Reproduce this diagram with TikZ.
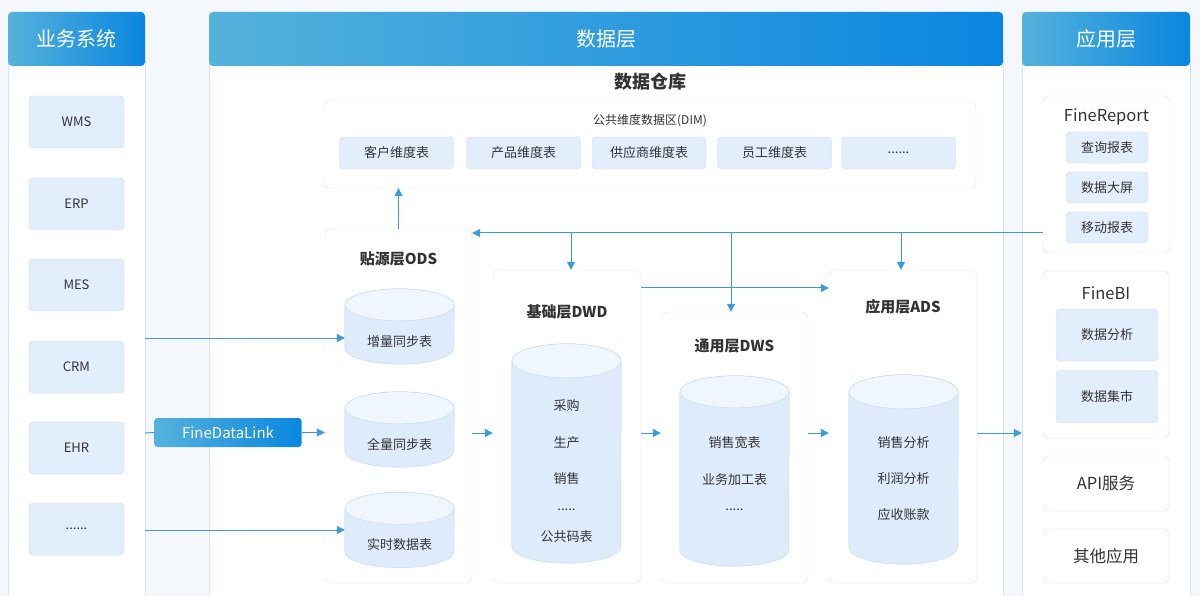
\documentclass[tikz,border=0pt]{standalone}
\usepackage{fontspec}
\setmainfont{Noto Sans CJK SC}
\usetikzlibrary{arrows.meta,positioning}
\definecolor{bgc}{HTML}{F4F7FC}
\definecolor{hdrL}{HTML}{54B2DC}
\definecolor{hdrR}{HTML}{0A86E0}
\definecolor{bord}{HTML}{D6E4F6}
\definecolor{cellf}{HTML}{E3EEFC}
\definecolor{cellb}{HTML}{C9DCF4}
\definecolor{dbbody}{HTML}{DDEBFB}
\definecolor{dbtop}{HTML}{F0F6FE}
\definecolor{dbb}{HTML}{C3D8F2}
\definecolor{flow}{HTML}{3A9BE0}
\definecolor{txt}{HTML}{333333}

% cylinder drawn round a placeholder node: #1 node, #2 ellipse half height
\newcommand{\drawdb}[2]{%
  \path[draw=dbb, fill=dbbody] ([yshift=-#2]#1.north west)
    -- ([yshift=#2]#1.south west)
    arc[start angle=180, end angle=360, x radius=54.5pt, y radius=#2]
    -- ([yshift=-#2]#1.north east)
    arc[start angle=0, end angle=180, x radius=54.5pt, y radius=#2] -- cycle;
  \path[draw=dbb, fill=dbtop] ([yshift=-#2]#1.north)
    ellipse[x radius=54.5pt, y radius=#2];}

\begin{document}
\begin{tikzpicture}[x=1pt, y=-1pt, >={Triangle[length=8pt,width=8pt]},
    font=\fontsize{13}{15}\selectfont, text=txt,
    hdr/.style={rounded corners=4pt, left color=hdrL, right color=hdrR,
      text=white, font=\fontsize{20}{24}\selectfont, inner sep=0pt},
    col/.style={fill=white, draw=bord, inner sep=0pt},
    panel/.style={draw=bord, fill=white, rounded corners=6pt, inner sep=0pt},
    cell/.style={draw=cellb, fill=cellf, rounded corners=4pt, inner sep=0pt},
    db/.style={minimum width=109, inner sep=0pt},
    arrow/.style={->, draw=flow, line width=1pt},
    link/.style={draw=flow, line width=1pt},
    title/.style={font=\fontsize{15}{18}\selectfont\bfseries},
    apptitle/.style={font=\fontsize{16.5}{20}\selectfont} ]

  \useasboundingbox[fill=bgc] (0,0) rectangle (1200,596);
  \clip (0,0) rectangle (1200,596);

  % Business systems
  \node[col, minimum width=137, minimum height=560, anchor=north] (sysbody)
    at (76.5,60) {};
  \node[hdr, minimum width=137, minimum height=54] (syshd) at (76.5,39) {业务系统};
  \node[cell, minimum width=95, minimum height=52] (wms) at (76.5,122) {WMS};
  \node[cell, minimum width=95, minimum height=52] (erp) at (76.5,204) {ERP};
  \node[cell, minimum width=95, minimum height=52] (mes) at (76.5,285) {MES};
  \node[cell, minimum width=95, minimum height=52] (crm) at (76.5,367) {CRM};
  \node[cell, minimum width=95, minimum height=52] (ehr) at (76.5,448) {EHR};
  \node[cell, minimum width=95, minimum height=52] (more) at (76.5,529) {......};

  % Data layer
  \node[col, minimum width=794, minimum height=560, anchor=north] (dbody)
    at (606,60) {};
  \node[hdr, minimum width=794, minimum height=54] (dhd) at (606,39) {数据层};
  \node[font=\fontsize{18}{22}\selectfont\bfseries] (dwtitle) at (650,82) {数据仓库};

  \node[panel, minimum width=653, minimum height=87] (dim) at (649.5,144.5) {};
  \node[font=\fontsize{12}{14}\selectfont] (dimtitle) at (650,121)
    {公共维度数据区(DIM)};
  \node[cell, minimum width=114, minimum height=32] (dim1) at (396.5,153) {客户维度表};
  \node[cell, minimum width=114, minimum height=32] (dim2) at (523.5,153) {产品维度表};
  \node[cell, minimum width=114, minimum height=32] (dim3) at (649,153) {供应商维度表};
  \node[cell, minimum width=114, minimum height=32] (dim4) at (774.5,153) {员工维度表};
  \node[cell, minimum width=114, minimum height=32] (dim5) at (898.5,153) {......};

  % ODS
  \node[panel, minimum width=147, minimum height=354] (ods) at (398.5,406) {};
  \node[title] (odst) at (398.5,259) {贴源层ODS};
  \node[db, minimum height=75] (ods1) at (399.5,326.5) {};
  \drawdb{ods1}{16pt}
  \node (ods1t) at (399.5,342) {增量同步表};
  \node[db, minimum height=75] (ods2) at (399.5,429.5) {};
  \drawdb{ods2}{16pt}
  \node (ods2t) at (399.5,444) {全量同步表};
  \node[db, minimum height=75] (ods3) at (399.5,530) {};
  \drawdb{ods3}{16pt}
  \node (ods3t) at (399.5,545) {实时数据表};

  % DWD
  \node[panel, minimum width=148, minimum height=313] (dwd) at (567,426.5) {};
  \node[title] (dwdt) at (567,312) {基础层DWD};
  \node[db, minimum height=219] (dwddb) at (566.5,453.5) {};
  \drawdb{dwddb}{17pt}
  \node (dwd1) at (566.5,406) {采购};
  \node (dwd2) at (566.5,443) {生产};
  \node (dwd3) at (566.5,479) {销售};
  \node (dwd4) at (566.5,510) {.....};
  \node (dwd5) at (566.5,537) {公共码表};

  % DWS
  \node[panel, minimum width=147, minimum height=271] (dws) at (734.5,447.5) {};
  \node[title] (dwst) at (734.5,346) {通用层DWS};
  \node[db, minimum height=190] (dwsdb) at (734.5,471) {};
  \drawdb{dwsdb}{16pt}
  \node (dws1) at (734.5,443) {销售宽表};
  \node (dws2) at (734.5,480) {业务加工表};
  \node (dws3) at (734.5,510) {.....};

  % ADS
  \node[panel, minimum width=148, minimum height=313] (ads) at (903,426.5) {};
  \node[title] (adst) at (903,307) {应用层ADS};
  \node[db, minimum height=189] (adsdb) at (903.5,469.5) {};
  \drawdb{adsdb}{17pt}
  \node (ads1) at (903.5,443) {销售分析};
  \node (ads2) at (903.5,479) {利润分析};
  \node (ads3) at (903.5,515) {应收账款};

  % Application layer
  \node[col, minimum width=168, minimum height=560, anchor=north] (appbody)
    at (1106,60) {};
  \node[hdr, minimum width=168, minimum height=54] (apphd) at (1106,39) {应用层};

  \node[panel, minimum width=127, minimum height=157] (fr) at (1106.5,174.5) {};
  \node[apptitle] (frt) at (1106.5,117) {FineReport};
  \node[cell, minimum width=82, minimum height=31] (fr1) at (1107,147.5) {查询报表};
  \node[cell, minimum width=82, minimum height=31] (fr2) at (1107,187.5) {数据大屏};
  \node[cell, minimum width=82, minimum height=31] (fr3) at (1107,227.5) {移动报表};

  \node[panel, minimum width=126, minimum height=167] (bi) at (1106,354.5) {};
  \node[apptitle] (bit) at (1106,293) {FineBI};
  \node[cell, minimum width=102, minimum height=52] (bi1) at (1107,335) {数据分析};
  \node[cell, minimum width=102, minimum height=52] (bi2) at (1107,396.5) {数据集市};

  \node[panel, apptitle, minimum width=126, minimum height=55] (api) at (1106,483.5)
    {API服务};
  \node[panel, apptitle, minimum width=126, minimum height=54] (other) at (1106,556)
    {其他应用};

  % Ingest
  \node[hdr, font=\fontsize{15}{18}\selectfont, rounded corners=3pt,
    minimum width=147, minimum height=29] (fdl) at (228,432.5) {FineDataLink};
  \coordinate (in1) at (145,338);
  \coordinate (in2) at (145,433);
  \coordinate (in3) at (145,530);
  \draw[arrow] (in1) -- (ods1.west |- in1);
  \draw[link] (in2) -- (fdl.west);
  \draw[arrow] (fdl.east) -- (ods.west |- fdl.east);
  \draw[arrow] (in3) -- (ods3.west |- in3);

  % Flows inside the warehouse
  \coordinate (back) at (1043,233);
  \coordinate (row) at (0,433);
  \coordinate (skip) at (641,288);
  \draw[arrow] (ods.north) -- (ods.north |- dim.south);
  \draw[arrow] (back) -- (ods.east |- back);
  \draw[arrow] ([xshift=4]dwd.north |- back) -- ([xshift=4]dwd.north);
  \draw[arrow] ([xshift=-3.5]dws.north |- back) -- ([xshift=-3.5]dws.north);
  \draw[arrow] ([xshift=-2]ads.north |- back) -- ([xshift=-2]ads.north);
  \draw[arrow] (skip) -- (ads.west |- skip);
  \draw[arrow] (ods.east |- row) -- (dwd.west |- row);
  \draw[arrow] (dwd.east |- row) -- (dws.west |- row);
  \draw[arrow] (dws.east |- row) -- (ads.west |- row);
  \draw[arrow] (ads.east |- row) -- (appbody.west |- row);

\end{tikzpicture}
\end{document}
